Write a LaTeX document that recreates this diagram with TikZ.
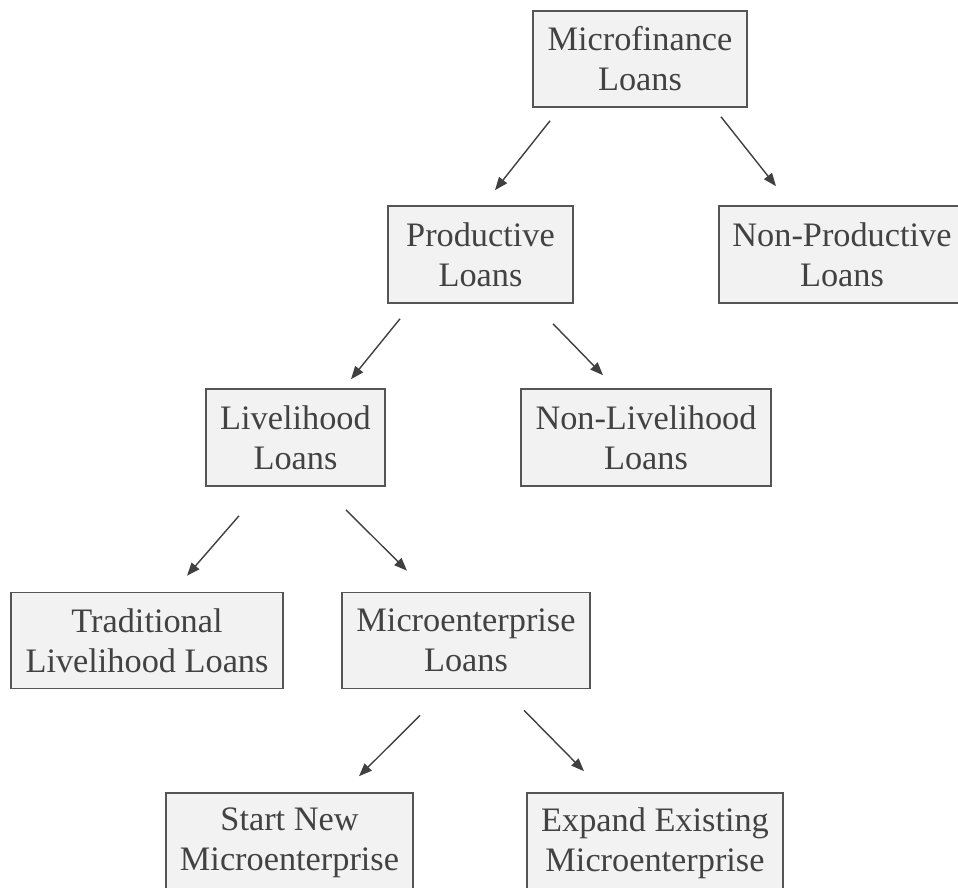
\documentclass[tikz,border=0pt]{standalone}
\usepackage{fontspec}
\setmainfont{Liberation Serif}
\usetikzlibrary{arrows.meta}
\definecolor{boxfill}{HTML}{F2F2F2}
\definecolor{boxline}{HTML}{555555}
\definecolor{txt}{HTML}{424242}
\definecolor{arr}{HTML}{404040}
\tikzset{
  loanbox/.style={draw=boxline, line width=1.6pt, fill=boxfill, text=txt,
    align=center, inner sep=0pt, font=\fontsize{34.3}{40}\selectfont, anchor=center},
  conn/.style={draw=arr, line width=1.4pt, -{Triangle[length=13pt,width=10pt]}}
}
\begin{document}
\begin{tikzpicture}[x=1pt,y=-1pt]
\useasboundingbox (0,0) rectangle (958,888);
\clip (0,0) rectangle (958,888);
\fill[white] (0,0) rectangle (958,888);
\node[loanbox, minimum width=214pt, minimum height=96pt] (micro) at (640,59) {Microfinance\\Loans};
\node[loanbox, minimum width=185pt, minimum height=97pt] (prod) at (480.5,254.5) {Productive\\Loans};
\node[loanbox, minimum width=246pt, minimum height=97pt] (nonprod) at (842,254.5) {Non-Productive\\Loans};
\node[loanbox, minimum width=179pt, minimum height=97pt] (live) at (295.5,437.5) {Livelihood\\Loans};
\node[loanbox, minimum width=250pt, minimum height=97pt] (nonlive) at (646,437.5) {Non-Livelihood\\Loans};
\node[loanbox, minimum width=272pt, minimum height=96pt] (trad) at (147,640.5) {Traditional\\Livelihood Loans};
\node[loanbox, minimum width=248pt, minimum height=96pt] (ment) at (466,640.5) {Microenterprise\\Loans};
\node[loanbox, minimum width=247pt, minimum height=100pt] (start) at (289.5,843) {Start New\\Microenterprise};
\node[loanbox, minimum width=256pt, minimum height=100pt] (expand) at (655,843) {Expand Existing\\Microenterprise};
% connectors
\draw[conn] ([xshift=-90pt,yshift=-13pt]micro.south) -- ([xshift=14.5pt,yshift=15pt]prod.north);
\draw[conn] ([xshift=81pt,yshift=-9pt]micro.south) -- ([xshift=-66pt,yshift=19pt]nonprod.north);
\draw[conn] ([xshift=-80.5pt,yshift=-15pt]prod.south) -- ([xshift=55.5pt,yshift=9pt]live.north);
\draw[conn] ([xshift=72.5pt,yshift=-20pt]prod.south) -- ([xshift=-43pt,yshift=13pt]nonlive.north);
\draw[conn] ([xshift=-56.5pt,yshift=-29pt]live.south) -- ([xshift=40pt,yshift=16pt]trad.north);
\draw[conn] ([xshift=50.5pt,yshift=-23pt]live.south) -- ([xshift=-59pt,yshift=21pt]ment.north);
\draw[conn] ([xshift=-46pt,yshift=-26pt]ment.south) -- ([xshift=69.5pt,yshift=16pt]start.north);
\draw[conn] ([xshift=58pt,yshift=-21pt]ment.south) -- ([xshift=-71pt,yshift=21pt]expand.north);
\end{tikzpicture}
\end{document}
